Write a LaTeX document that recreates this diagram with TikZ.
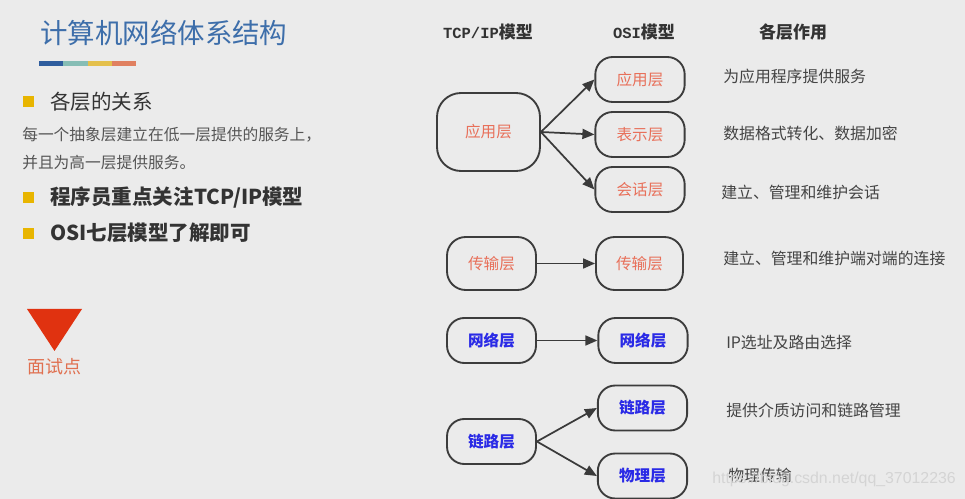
\documentclass[tikz,border=0pt]{standalone}
\usepackage{fontspec}
\setmainfont{Noto Sans CJK SC}
\newfontfamily\mono{Liberation Mono}
\newfontfamily\wmfont{Liberation Sans}
\usetikzlibrary{arrows.meta}
\definecolor{bg}{HTML}{EBEBEB}
\definecolor{boxline}{HTML}{3C3C3C}
\definecolor{arrowc}{HTML}{3A3A3A}
\definecolor{salmon}{HTML}{E8705A}
\definecolor{layblue}{HTML}{2A2AE6}
\definecolor{titleblue}{HTML}{3D6EAA}
\definecolor{barA}{HTML}{2F5D9E}
\definecolor{barB}{HTML}{86BDB5}
\definecolor{barC}{HTML}{E4C04C}
\definecolor{barD}{HTML}{E08060}
\definecolor{bulletc}{HTML}{E8B500}
\definecolor{darktext}{HTML}{333333}
\definecolor{bodytext}{HTML}{555555}
\definecolor{desctext}{HTML}{444444}
\definecolor{trired}{HTML}{E03210}
\definecolor{intv}{HTML}{E07050}
\definecolor{wm}{HTML}{D4D4D4}
\begin{document}
\begin{tikzpicture}[x=0.75pt,y=-0.75pt,
  layerbox/.style={draw=boxline, line width=1.4pt, inner sep=0pt, align=center,
    font=\fontsize{11.7}{14}\selectfont},
  small/.style={layerbox, minimum width=67pt, minimum height=33.75pt, rounded corners=13pt},
  mid/.style={layerbox, minimum width=66.75pt, minimum height=39.75pt, rounded corners=14pt},
  big/.style={layerbox, minimum width=77.25pt, minimum height=58.5pt, rounded corners=18pt},
  orangetxt/.style={text=salmon},
  bluetxt/.style={text=layblue, font=\fontsize{11.7}{14}\selectfont\bfseries},
  conn/.style={draw=arrowc, line width=1.3pt, -{Triangle[length=9pt,width=7.5pt]}},
  header/.style={text=darktext, font=\fontsize{12.75}{15}\selectfont\bfseries},
  desc/.style={anchor=west, inner sep=0pt, text=desctext, font=\fontsize{11.9}{14}\selectfont},
  bullet/.style={fill=bulletc},
  bigitem/.style={anchor=west, inner sep=0pt, text=darktext, font=\fontsize{15.4}{18}\selectfont},
  bodyline/.style={anchor=west, inner sep=0pt, text=bodytext, font=\fontsize{11.8}{14}\selectfont}
]
\fill[bg] (0,0) rectangle (965,499);
\useasboundingbox (0,0) rectangle (965,499);

% ---------- left panel ----------
\node[anchor=west, inner sep=0pt, text=titleblue, font=\fontsize{20.6}{24}\selectfont] (title) at (40,33) {计算机网络体系结构};
\fill[barA] (39,61) rectangle (63,66);
\fill[barB] (63,61) rectangle (88,66);
\fill[barC] (88,61) rectangle (112,66);
\fill[barD] (112,61) rectangle (136,66);

\fill[bullet] (23,96) rectangle (34,107);
\node[bigitem] (b1) at (50,102) {各层的关系};
\node[bodyline] (l1) at (22,135) {每一个抽象层建立在低一层提供的服务上，};
\node[bodyline] (l2) at (22,163) {并且为高一层提供服务。};
\fill[bullet] (23,192) rectangle (34,203);
\node[bigitem, font=\fontsize{15.4}{18}\selectfont\bfseries] (b2) at (50,197) {程序员重点关注TCP/IP模型};
\fill[bullet] (23,228) rectangle (34,239);
\node[bigitem, font=\fontsize{15.4}{18}\selectfont\bfseries] (b3) at (50,233) {OSI七层模型了解即可};

\fill[trired] (27,309) -- (82,309) -- (54.5,351) -- cycle;
\node[text=intv, inner sep=0pt, font=\fontsize{13.5}{16}\selectfont] (ms) at (54,367) {面试点};

% ---------- headers ----------
\node[header] (h1) at (488,32) {{\mono\fontsize{11.6}{14}\selectfont TCP/IP}模型};
\node[header] (h2) at (644,32) {{\mono\fontsize{11.6}{14}\selectfont OSI}模型};
\node[header] (h3) at (793,32) {各层作用};

% ---------- TCP/IP boxes ----------
\node[big, orangetxt] (t1) at (488.5,132) {应用层};
\node[mid, orangetxt] (t4) at (491.5,263.5) {传输层};
\node[small, bluetxt, minimum width=66.75pt] (t5) at (491.5,340.5) {网络层};
\node[small, bluetxt, minimum width=66.75pt] (t6) at (491.5,441.5) {链路层};

% ---------- OSI boxes ----------
\node[small, orangetxt] (o1) at (640,79.5) {应用层};
\node[small, orangetxt] (o2) at (640,134.5) {表示层};
\node[small, orangetxt] (o3) at (640,189.5) {会话层};
\node[mid, orangetxt, minimum width=65.25pt] (o4) at (639.5,263.5) {传输层};
\node[small, bluetxt] (o5) at (643,340.5) {网络层};
\node[small, bluetxt] (o6) at (642.5,408) {链路层};
\node[small, bluetxt] (o7) at (642.5,476) {物理层};

% ---------- connectors ----------
\draw[conn] (t1.east) -- (o1.west);
\draw[conn] (t1.east) -- (o2.west);
\draw[conn] (t1.east) -- (o3.west);
\draw[conn] (t4.east) -- (o4.west);
\draw[conn] (t5.east) -- (o5.west);
\draw[conn] (t6.east) -- (o6.west);
\draw[conn] (t6.east) -- (o7.west);

% ---------- descriptions ----------
\node[desc] (d1) at (723,76) {为应用程序提供服务};
\node[desc] (d2) at (723,133) {数据格式转化、数据加密};
\node[desc] (d3) at (721,192) {建立、管理和维护会话};
\node[desc] (d4) at (723,258) {建立、管理和维护端对端的连接};
\node[desc] (d5) at (726,342) {IP选址及路由选择};
\node[desc] (d6) at (726,410) {提供介质访问和链路管理};
\node[desc] (d7) at (728,475) {物理传输};

\node[anchor=west, inner sep=0pt, text=wm, font=\wmfont\fontsize{11.9}{14}\selectfont] (wmk) at (712,479) {https://blog.csdn.net/qq\_37012236};
\end{tikzpicture}
\end{document}
